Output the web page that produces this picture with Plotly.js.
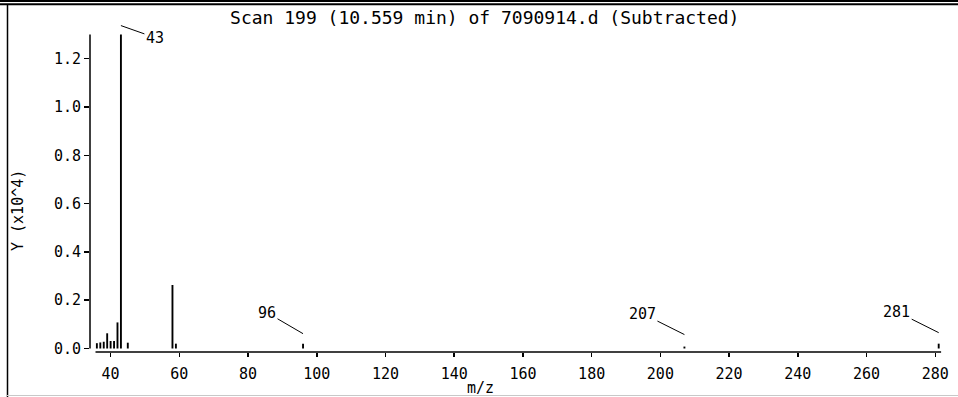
<!DOCTYPE html>
<html>
<head>
<meta charset="utf-8">
<script src="https://cdn.plot.ly/plotly-3.0.1.min.js"></script>
<style>html,body{margin:0;padding:0;background:#fff;}#chart{width:958px;height:397px;}</style>
</head>
<body>
<div id="chart"></div>
<script>
// m/z values of peaks
const mz = [36, 37, 38, 39, 40, 41, 42, 43, 45, 58, 59, 96, 207, 281];
// abundance (x10^4)
const abundance = [0.022, 0.025, 0.028, 0.063, 0.031, 0.031, 0.108, 1.30, 0.024, 0.263, 0.02, 0.02, 0.008, 0.02];
// labelled peaks
const labelledMz = [43, 96, 207, 281];
const xTicks = [40, 60, 80, 100, 120, 140, 160, 180, 200, 220, 240, 260, 280];
const titleText = "Scan 199 (10.559 min) of 7090914.d (Subtracted)";

const FONT = "DejaVu Sans Mono, Liberation Mono, monospace";
const W = 958, H = 397;
const M = {l: 90, r: 9, t: 30, b: 45};
const PW = W - M.l - M.r, PH = H - M.t - M.b;
const px = v => (v - M.l) / PW;       // pixel x -> paper x
const py = v => (H - M.b - v) / PH;   // pixel y -> paper y

const trace = {
  type: 'bar', x: mz, y: abundance, width: 0.55,
  marker: {color: '#000', line: {width: 0}}, hoverinfo: 'skip'
};

const labelStyle = {
  43: {ax: 34, ay: 12, yshift: 9},
  96: {ax: -36, ay: -21, yshift: 10},
  207: {ax: -42, ay: -21, yshift: 12},
  281: {ax: -42, ay: -21, yshift: 11}
};
const annotations = labelledMz.map(m => {
  const i = mz.indexOf(m);
  const s = labelStyle[m];
  return {
    x: mz[i], y: abundance[i], xref: 'x', yref: 'y', text: String(m),
    showarrow: true, arrowhead: 0, arrowwidth: 1, arrowcolor: '#000',
    ax: s.ax, ay: s.ay, yshift: s.yshift, standoff: 0,
    font: {family: FONT, size: 15, color: '#000'}
  };
});
annotations.push({
  xref: 'paper', yref: 'paper', x: px(18), y: py(211), xanchor: 'center', yanchor: 'middle',
  text: 'Y (x10^4)', textangle: -90, showarrow: false, font: {family: FONT, size: 15, color: '#000'}
});
annotations.push({
  xref: 'paper', yref: 'paper', x: px(480), y: py(388), xanchor: 'center', yanchor: 'middle',
  text: 'm/z', showarrow: false, font: {family: FONT, size: 15, color: '#000'}
});

const shapes = [
  // y axis line
  {type: 'line', xref: 'paper', yref: 'y', x0: 0, x1: 0, y0: 0, y1: Math.max(...abundance), line: {color: '#000', width: 1.5}},
  // x axis line
  {type: 'line', xref: 'x', yref: 'paper', x0: 35.6, x1: 281.7, y0: 0, y1: 0, line: {color: '#000', width: 1.5}},
  // frame: top double line
  {type: 'line', xref: 'paper', yref: 'paper', x0: px(0), x1: px(958), y0: py(0.9), y1: py(0.9), line: {color: '#000', width: 2}},
  {type: 'line', xref: 'paper', yref: 'paper', x0: px(0), x1: px(958), y0: py(4.3), y1: py(4.3), line: {color: '#000', width: 2}},
  // left border
  {type: 'line', xref: 'paper', yref: 'paper', x0: px(7.5), x1: px(7.5), y0: py(5), y1: py(397), line: {color: '#000', width: 1.5}},
  // bottom gray line
  {type: 'line', xref: 'paper', yref: 'paper', x0: px(7), x1: px(958), y0: py(395.5), y1: py(395.5), line: {color: '#c8c8c8', width: 1}}
];

const layout = {
  width: W, height: H, margin: M,
  paper_bgcolor: '#fff', plot_bgcolor: '#fff',
  showlegend: false, hovermode: false,
  title: {text: titleText, x: 0.506, xref: 'container', xanchor: 'center',
          y: 1 - 18 / H, yref: 'container', yanchor: 'middle',
          font: {family: FONT, size: 18, color: '#000'}},
  xaxis: {
    range: [34, 284], tickvals: xTicks, ticktext: xTicks.map(String),
    ticks: 'outside', ticklen: 4, tickwidth: 1.5, tickcolor: '#000',
    showline: false, showgrid: false, zeroline: false, ticklabelstandoff: 4,
    tickfont: {family: FONT, size: 15, color: '#000'}
  },
  yaxis: {
    range: [-0.0145, 1.319], tick0: 0, dtick: 0.2, tickformat: '.1f',
    ticks: 'outside', ticklen: 5, tickwidth: 1.5, tickcolor: '#000',
    showline: false, showgrid: false, zeroline: false,
    tickfont: {family: FONT, size: 15, color: '#000'}
  },
  annotations: annotations,
  shapes: shapes
};

Plotly.newPlot('chart', [trace], layout, {displayModeBar: false, staticPlot: true});
</script>
</body>
</html>
